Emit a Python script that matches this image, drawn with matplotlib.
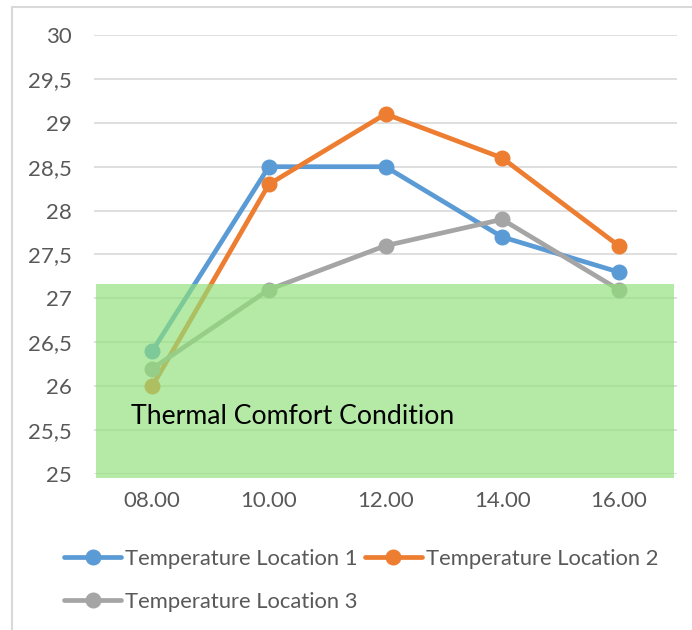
import matplotlib
matplotlib.use("Agg")
import matplotlib.pyplot as plt
from matplotlib.patches import Rectangle
from matplotlib.ticker import FuncFormatter

# data
hours = ["08.00", "10.00", "12.00", "14.00", "16.00"]
temp_loc1 = [26.4, 28.5, 28.5, 27.7, 27.3]
temp_loc2 = [26.0, 28.3, 29.1, 28.6, 27.6]
temp_loc3 = [26.2, 27.1, 27.6, 27.9, 27.1]
series_names = ["Temperature Location 1", "Temperature Location 2", "Temperature Location 3"]
series_colors = ["#5B9BD5", "#ED7D31", "#A5A5A5"]
comfort_top = 27.16
comfort_label = "Thermal Comfort Condition"

plt.rcParams["font.family"] = ["Lato", "DejaVu Sans"]

fig = plt.figure(figsize=(6.92, 6.30), dpi=100)
ax = fig.add_axes([94 / 692, 1 - 474 / 630, (677 - 94) / 692, (474 - 35) / 630])

x = list(range(len(hours)))
handles = []
for vals, name, col in zip([temp_loc1, temp_loc2, temp_loc3], series_names, series_colors):
    h, = ax.plot(x, vals, color=col, lw=3.4, marker="o", markersize=10.5,
                 solid_capstyle="round", label=name, zorder=3)
    handles.append(h)

# green comfort zone, drawn over the lines (semi transparent)
ax.add_patch(Rectangle((-0.483, 24.96), 4.957, comfort_top - 24.96,
                       facecolor=(143 / 255, 225 / 255, 121 / 255), alpha=0.67,
                       edgecolor="none", zorder=4, clip_on=False))
ax.text(-0.18, 25.65, comfort_label, fontsize=19.2, color="black",
        va="center", ha="left", zorder=5)

ax.set_xlim(-0.5, 4.5)
ax.set_ylim(25, 30)
ax.set_xticks(x)
ax.set_xticklabels(hours)
ax.set_yticks([25 + 0.5 * i for i in range(11)])
ax.yaxis.set_major_formatter(FuncFormatter(lambda v, p: f"{v:g}".replace(".", ",")))
ax.tick_params(length=0, labelsize=16, labelcolor="#595959")
ax.tick_params(axis="y", pad=16)
ax.tick_params(axis="x", pad=12)
ax.grid(axis="y", color="#D9D9D9", lw=1.2, zorder=0)
ax.set_axisbelow(True)
for s in ax.spines.values():
    s.set_visible(False)

# legend, row-major order
leg = fig.legend([handles[0], handles[2], handles[1]],
                 [series_names[0], series_names[2], series_names[1]],
                 ncol=2, loc="upper left", bbox_to_anchor=(64 / 692, 1 - 549 / 630),
                 frameon=False, fontsize=15.8, handlelength=2.6, handletextpad=0.2,
                 columnspacing=0.3, labelspacing=1.05, borderpad=0, borderaxespad=0)
for t in leg.get_texts():
    t.set_color("#595959")

# outer chart frame
fig.patches.append(Rectangle((12 / 692, -0.1), 2, 1.1 - 7 / 630, transform=fig.transFigure,
                             fill=False, edgecolor="#D9D9D9", lw=1.5))

fig.savefig("out.png", dpi=100)
